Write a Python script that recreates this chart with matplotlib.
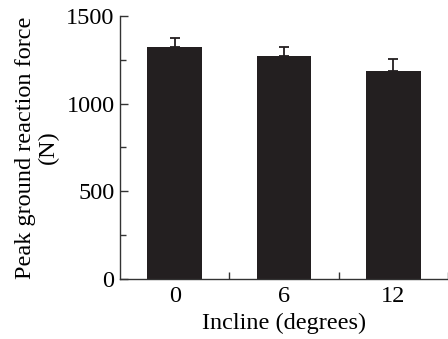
import matplotlib
matplotlib.use("Agg")
import matplotlib.pyplot as plt
from matplotlib.ticker import MultipleLocator, FixedLocator

inclines = ["0", "6", "12"]
force = [1322, 1272, 1186]
force_err = [55, 53, 70]

plt.rcParams["font.family"] = ["Liberation Serif", "DejaVu Serif"]
fs = 17.5

fig = plt.figure(figsize=(4.48, 3.39), dpi=100)
ax = fig.add_axes([0.268, 0.177, 0.732, 0.776])

x = range(len(inclines))
ax.bar(x, force, width=0.5, color="#231f20",
       yerr=[[0] * len(force), force_err], capsize=3.5,
       error_kw=dict(ecolor="#231f20", elinewidth=1.3, capthick=1.3))

ax.set_xlim(-0.5, 2.5)
ax.set_ylim(0, 1500)
ax.spines["top"].set_visible(False)
ax.spines["right"].set_visible(False)
for s in ("left", "bottom"):
    ax.spines[s].set_linewidth(1.0)
    ax.spines[s].set_color("#333333")

ax.set_xticks(list(x))
ax.set_xticklabels(inclines)
ax.xaxis.set_minor_locator(FixedLocator([0.5, 1.5, 2.5]))
ax.tick_params(axis="x", which="major", length=0, pad=5, labelsize=fs)
ax.tick_params(axis="x", which="minor", direction="in", length=5, width=1.0, color="#333333")

ax.yaxis.set_major_locator(MultipleLocator(500))
ax.yaxis.set_minor_locator(MultipleLocator(250))
ax.tick_params(axis="y", which="major", direction="in", length=6, width=1.0,
               color="#333333", pad=4, labelsize=fs)
ax.tick_params(axis="y", which="minor", direction="in", length=4, width=1.0, color="#333333")

ax.set_xlabel("Incline (degrees)", fontsize=fs, labelpad=4)
ax.set_ylabel("Peak ground reaction force\n(N)", fontsize=fs, labelpad=5,
              linespacing=1.1)

fig.savefig("out.png", dpi=100)
plt.close(fig)
